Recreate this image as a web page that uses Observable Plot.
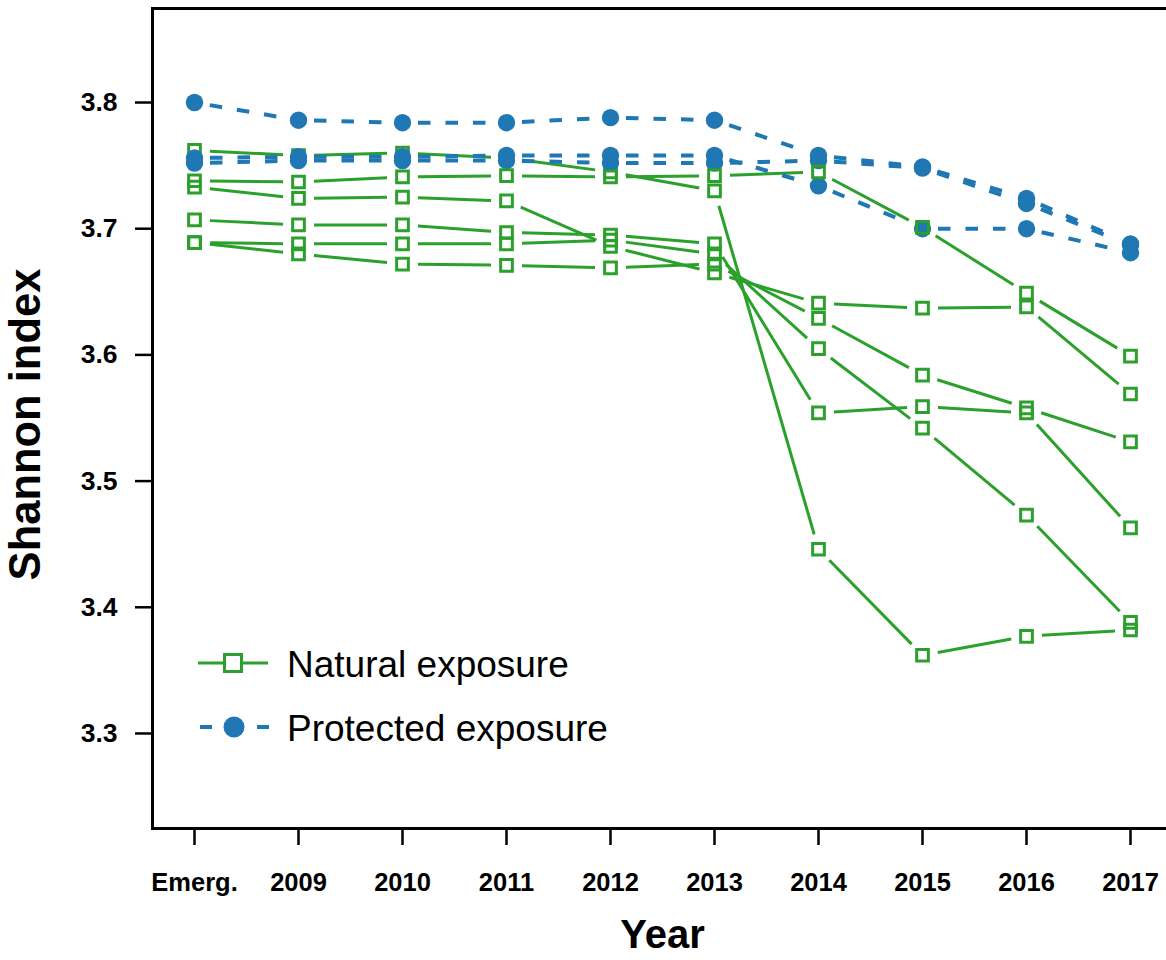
<!DOCTYPE html>
<html>
<head>
<meta charset="utf-8">
<script src="https://cdn.jsdelivr.net/npm/d3@7"></script>
<script src="https://cdn.jsdelivr.net/npm/@observablehq/plot@0.6"></script>
<style>
  html, body { margin: 0; padding: 0; background: white; overflow: hidden; }
  #chart { width: 1166px; height: 960px; overflow: hidden; }
</style>
</head>
<body>
<div id="chart"></div>
<script>
// ---- data ----
const years = ["Emerg.", "2009", "2010", "2011", "2012", "2013", "2014", "2015", "2016", "2017"];
const yTicks = [3.3, 3.4, 3.5, 3.6, 3.7, 3.8];

// Natural exposure (green, open squares)
const natural1 = [3.762, 3.758, 3.760, 3.756, 3.745, 3.730, 3.446, 3.362, 3.377, 3.382];
const natural2 = [3.738, 3.737, 3.741, 3.742, 3.741, 3.742, 3.745, 3.701, 3.649, 3.599];
const natural3 = [3.733, 3.724, 3.725, 3.722, 3.686, 3.665, 3.641, 3.637, 3.638, 3.569];
const natural4 = [3.707, 3.703, 3.703, 3.697, 3.695, 3.688, 3.554, 3.559, 3.554, 3.463];
const natural5 = [3.689, 3.688, 3.688, 3.688, 3.691, 3.680, 3.605, 3.542, 3.473, 3.388];
const natural6 = [3.689, 3.680, 3.672, 3.671, 3.669, 3.672, 3.629, 3.584, 3.558, 3.531];

// Protected exposure (blue, filled circles)
const protected1 = [3.800, 3.786, 3.784, 3.784, 3.788, 3.786, 3.758, 3.749, 3.724, 3.688];
const protected2 = [3.752, 3.754, 3.754, 3.754, 3.752, 3.752, 3.754, 3.748, 3.720, 3.687];
const protected3 = [3.756, 3.757, 3.757, 3.758, 3.758, 3.758, 3.734, 3.700, 3.700, 3.681];

const legendLabels = ["Natural exposure", "Protected exposure"];
const green = "#2ca02c";
const blue = "#1f77b4";

// ---- tables built from the arrays ----
function points(seriesList, prefix) {
  return seriesList.flatMap((vals, i) => vals.map((v, j) => ({series: prefix + i, year: years[j], value: v})));
}
function segments(seriesList, prefix) {
  return seriesList.flatMap((vals, i) => vals.slice(1).map((v, j) => ({
    series: prefix + i, x1: years[j], y1: vals[j], x2: years[j + 1], y2: v
  })));
}
const natA = [natural1, natural3, natural4, natural5, natural6];
const natB = [natural2];
const natAll = [natural1, natural2, natural3, natural4, natural5, natural6];
const prot = [protected1, protected2, protected3];

const font = "'Liberation Sans', Arial, Helvetica, sans-serif";
const gap = 15.5;

const plot = Plot.plot({
  width: 1166,
  height: 960,
  marginLeft: 152,
  marginRight: -6,
  marginTop: 8,
  marginBottom: 132,
  style: {fontFamily: font, background: "white", overflow: "hidden", color: "black"},
  x: {type: "point", domain: years, range: [190, 1133], padding: 0},
  y: {domain: [3.2247, 3.8745], range: [828, 8]},
  marks: [
    Plot.axisY({ticks: yTicks, tickFormat: d => d.toFixed(1), tickSize: 17, tickPadding: 18,
      fontSize: 26.5, fontWeight: "bold", strokeWidth: 2.5, label: null}),
    Plot.axisX({tickSize: 17, tickPadding: 27, fontSize: 25.5, fontWeight: "bold",
      strokeWidth: 2.5, label: null}),
    Plot.arrow(segments(natAll, "n"), {x1: "x1", y1: "y1", x2: "x2", y2: "y2",
      insetStart: gap, insetEnd: gap, headLength: 0, stroke: green, strokeWidth: 3, strokeLinecap: "butt"}),
    Plot.arrow(segments(prot, "p"), {x1: "x1", y1: "y1", x2: "x2", y2: "y2",
      insetStart: gap, insetEnd: gap, headLength: 0, stroke: blue, strokeWidth: 4,
      strokeDasharray: "12.5,15", strokeLinecap: "butt"}),
    Plot.dot(points(natA, "a"), {x: "year", y: "value", symbol: "square", r: 6.6,
      stroke: green, strokeWidth: 3, fill: "none"}),
    Plot.dot(points(prot, "p"), {x: "year", y: "value", r: 8.7, fill: blue, stroke: null}),
    Plot.dot(points(natB, "b"), {x: "year", y: "value", symbol: "square", r: 6.6,
      stroke: green, strokeWidth: 3, fill: "none"}),
    Plot.frame({stroke: "black", strokeWidth: 3}),
    Plot.text(["Year"], {text: d => d, frameAnchor: "bottom", dy: 107, fontSize: 40,
      fontWeight: "bold", lineAnchor: "middle", fill: "black"}),
    Plot.text(["Shannon index"], {text: d => d, frameAnchor: "left", rotate: -90, dx: -126, dy: 6,
      fontSize: 43.5, fontWeight: "bold", textAnchor: "middle", lineAnchor: "middle", fill: "black"})
  ]
});

document.getElementById("chart").appendChild(plot);

// ---- legend (inside plot area, lower left) ----
const svg = d3.select(plot);
const lg = svg.append("g").attr("font-family", font).attr("text-anchor", "start");
// Natural exposure
lg.append("line").attr("x1", 198).attr("x2", 268).attr("y1", 663).attr("y2", 663)
  .attr("stroke", green).attr("stroke-width", 3);
lg.append("rect").attr("x", 233 - 8.5).attr("y", 663 - 8.5).attr("width", 17).attr("height", 17)
  .attr("fill", "white").attr("stroke", green).attr("stroke-width", 3);
lg.append("text").attr("x", 287).attr("y", 677).attr("font-size", 37).attr("fill", "black")
  .attr("text-anchor", "start").text(legendLabels[0]);
// Protected exposure
lg.append("line").attr("x1", 200).attr("x2", 212).attr("y1", 727).attr("y2", 727)
  .attr("stroke", blue).attr("stroke-width", 4);
lg.append("line").attr("x1", 257).attr("x2", 269).attr("y1", 727).attr("y2", 727)
  .attr("stroke", blue).attr("stroke-width", 4);
lg.append("circle").attr("cx", 234).attr("cy", 727).attr("r", 10.5).attr("fill", blue);
lg.append("text").attr("x", 287).attr("y", 741).attr("font-size", 37).attr("fill", "black")
  .attr("text-anchor", "start").text(legendLabels[1]);
</script>
</body>
</html>
